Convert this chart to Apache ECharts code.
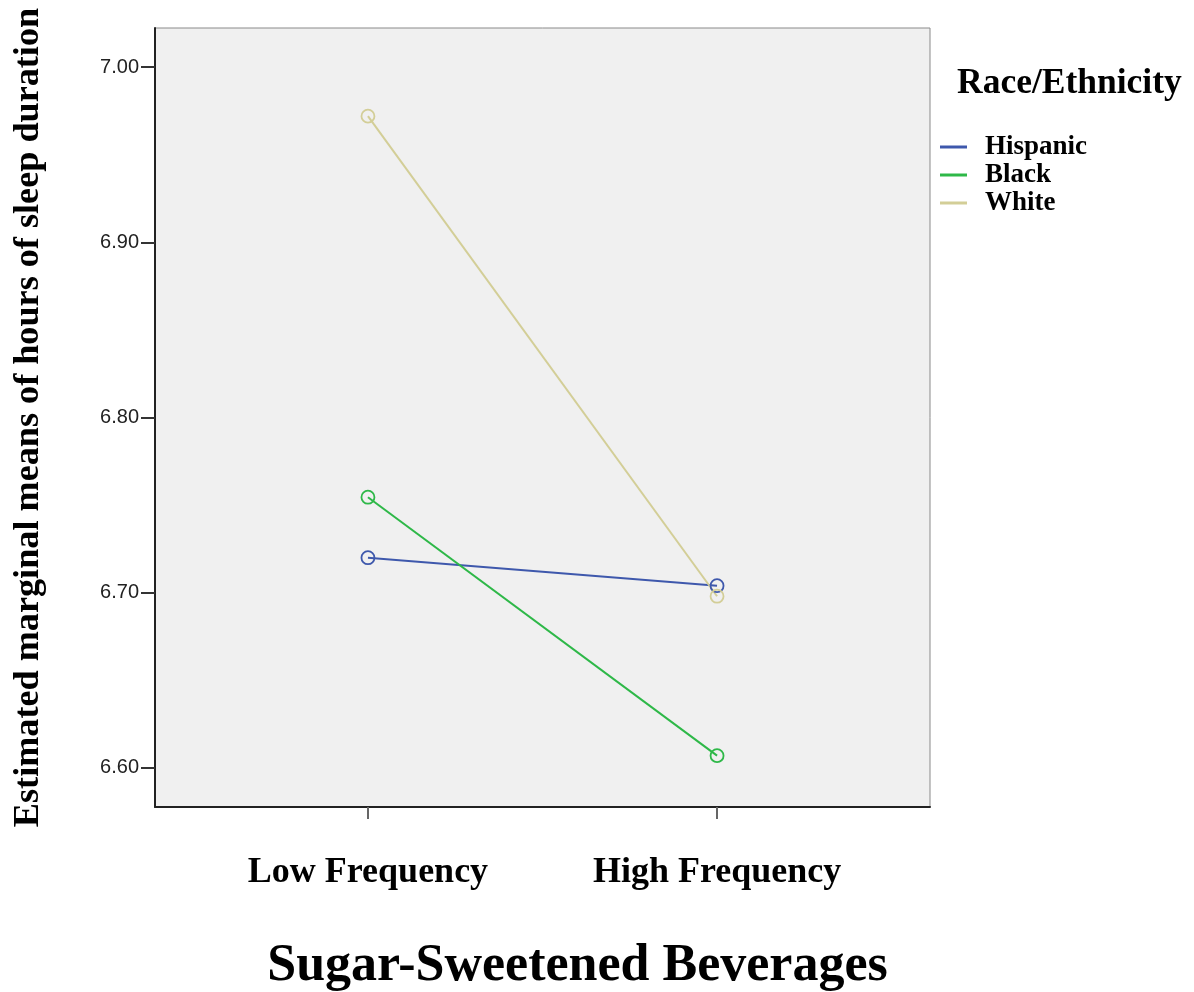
<!DOCTYPE html>
<html><head><meta charset="utf-8">
<script src="https://cdn.jsdelivr.net/npm/echarts@6/dist/echarts.min.js"></script>
<style>html,body{margin:0;padding:0;background:#fff}#c{width:1194px;height:992px}</style>
</head><body><div id="c"></div>
<script>
const categories = ['Low Frequency', 'High Frequency'];
const seriesNames = ['Hispanic', 'Black', 'White'];
const hispanic = [6.720, 6.704];
const black = [6.7545, 6.607];
const white = [6.972, 6.698];
const yTicks = [6.60, 6.70, 6.80, 6.90, 7.00];
const colors = ['#3E58AC', '#2EB848', '#D3CE97'];
const values = [hispanic, black, white];

const serif = '"Liberation Serif", "Times New Roman", serif';
const chart = echarts.init(document.getElementById('c'));
chart.setOption({
  animation: false,
  backgroundColor: '#fff',
  grid: {left: 155, right: 264, top: 28, bottom: 185, show: true, outerBoundsMode: 'none', containLabel: false,
         backgroundColor: '#f0f0f0', borderColor: '#8a8a8a', borderWidth: 1},
  title: {text: 'Race/Ethnicity', left: 952, top: 61,
          textStyle: {fontFamily: serif, fontWeight: 'bold', fontSize: 35.5, color: '#000'}},
  legend: {orient: 'vertical', left: 935, top: 128, itemWidth: 27, itemHeight: 3, itemGap: 0,
           icon: 'rect',
           data: seriesNames.map((n, i) => ({name: n, itemStyle: {color: colors[i], borderWidth: 0}})),
           textStyle: {fontFamily: serif, fontWeight: 'bold', fontSize: 27, color: '#000',
                       lineHeight: 28, padding: [0, 0, 0, 13]}},
  xAxis: {type: 'value', min: -0.61, max: 1.61,
          name: 'Sugar-Sweetened Beverages', nameLocation: 'middle', nameGap: 134,
          nameTextStyle: {fontFamily: serif, fontWeight: 'bold', fontSize: 52, color: '#000',
                          padding: [0, 0, 0, 70]},
          axisLine: {show: true, onZero: false, lineStyle: {color: '#222', width: 2}},
          axisTick: {show: true, customValues: [0, 1], length: 12, lineStyle: {color: '#666', width: 2}},
          axisLabel: {customValues: [0, 1], margin: 48,
                      formatter: v => categories[Math.round(v)],
                      fontFamily: serif, fontWeight: 'bold', fontSize: 36, color: '#000'},
          splitLine: {show: false}},
  yAxis: {type: 'value', min: 6.5777, max: 7.0223,
          name: 'Estimated marginal means of hours of sleep duration', nameLocation: 'middle',
          nameRotate: 90, nameGap: 108,
          nameTextStyle: {fontFamily: serif, fontWeight: 'bold', fontSize: 36.2, color: '#000'},
          axisLine: {show: true, onZero: false, lineStyle: {color: '#222', width: 2}},
          axisTick: {show: true, customValues: yTicks, length: 14, lineStyle: {color: '#333', width: 2}},
          axisLabel: {customValues: yTicks, margin: 16, formatter: v => v.toFixed(2),
                      fontFamily: '"Liberation Sans", Arial, sans-serif', fontSize: 20, color: '#222'},
          splitLine: {show: false}},
  series: seriesNames.map((n, i) => ({
    name: n, type: 'line',
    data: values[i].map((v, j) => [j, v]),
    symbol: 'circle', symbolSize: 13,
    itemStyle: {color: 'rgba(0,0,0,0)', borderColor: colors[i], borderWidth: 1.8},
    lineStyle: {color: colors[i], width: 2},
    color: colors[i]
  }))
});
</script></body></html>
